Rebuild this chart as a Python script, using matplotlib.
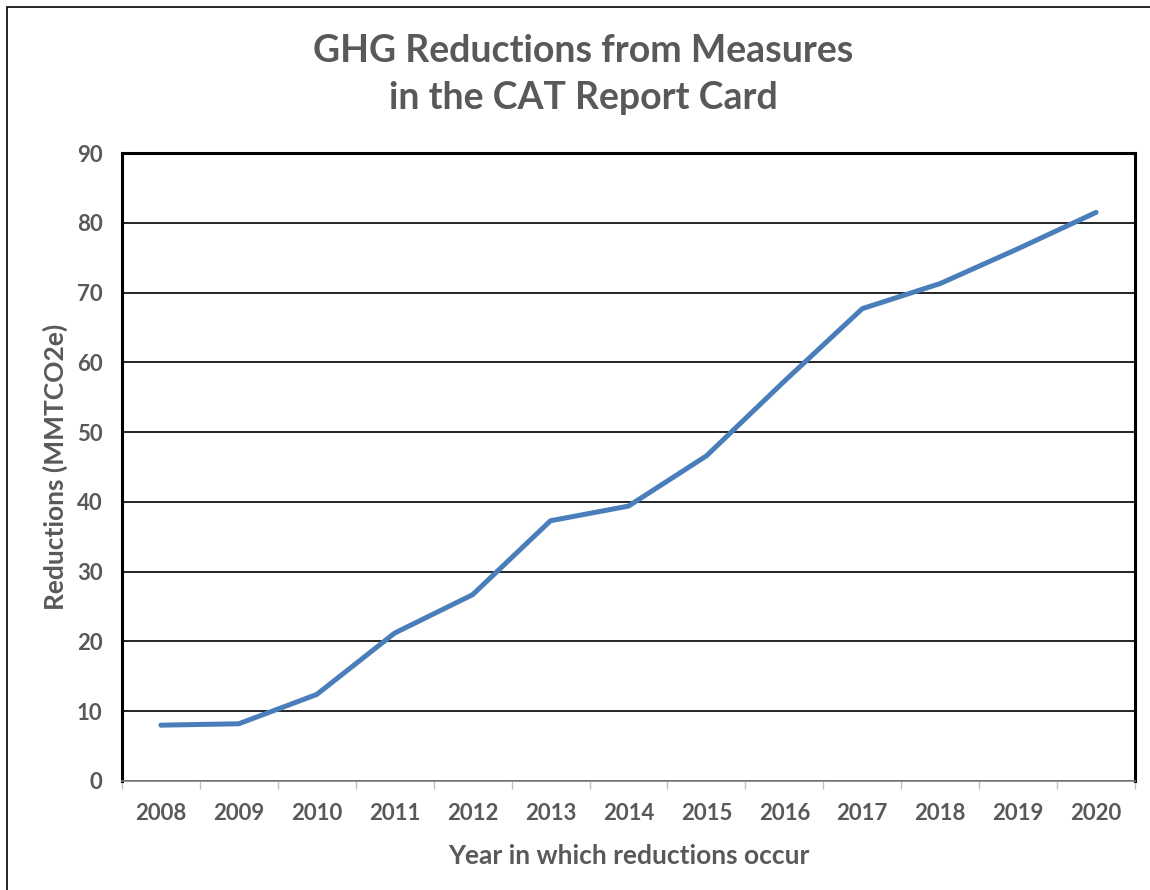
import numpy as np
import matplotlib.pyplot as plt
from matplotlib.patches import Rectangle

# data
years = ['2008', '2009', '2010', '2011', '2012', '2013', '2014',
         '2015', '2016', '2017', '2018', '2019', '2020']
reductions = [8.0, 8.2, 12.4, 21.2, 26.7, 37.3, 39.4,
              46.6, 57.3, 67.7, 71.3, 76.3, 81.5]

TXT = '#595959'
plt.rcParams['font.family'] = ['Lato', 'DejaVu Sans']

fig = plt.figure(figsize=(11.5, 8.9), dpi=100)
ax = fig.add_axes([0.106, 0.1225, 0.881, 0.7055])

x = np.arange(len(years))
ax.plot(x, reductions, color='#4A7EBB', lw=3.6, solid_capstyle='round',
        solid_joinstyle='round', zorder=3)

ax.set_xlim(-0.5, len(years) - 0.5)
ax.set_ylim(0, 90)
ax.set_yticks(np.arange(0, 91, 10))
ax.grid(axis='y', color='black', lw=1.2)
ax.set_axisbelow(True)

ax.set_xticks(x)
ax.set_xticklabels(years)
ax.set_xticks(np.arange(-0.5, len(years), 1), minor=True)
ax.tick_params(axis='x', which='major', length=0, pad=16)
ax.tick_params(axis='x', which='minor', length=6, color='#BFBFBF', width=1)
ax.tick_params(axis='y', length=0, pad=14)
for lab in ax.get_xticklabels() + ax.get_yticklabels():
    lab.set_fontsize(16)
    lab.set_fontweight('bold')
    lab.set_color(TXT)

for s in ['left', 'top', 'right']:
    ax.spines[s].set_linewidth(2.2)
    ax.spines[s].set_color('black')
ax.spines['bottom'].set_linewidth(1.2)
ax.spines['bottom'].set_color('#808080')

ax.set_xlabel('Year in which reductions occur', fontsize=19, fontweight='bold',
              color=TXT, labelpad=14)
ax.set_ylabel('Reductions (MMTCO2e)', fontsize=19, fontweight='bold',
              color=TXT, labelpad=6)

fig.text(0.507, 0.916, 'GHG Reductions from Measures\nin the CAT Report Card',
         ha='center', va='center', fontsize=27, fontweight='bold', color=TXT,
         linespacing=1.45)

# outer chart border
fig.patches.append(Rectangle((0.006, -0.05), 1.1, 1.042, transform=fig.transFigure,
                             fill=False, edgecolor='black', lw=1.2))

fig.savefig('out.png', dpi=100)
